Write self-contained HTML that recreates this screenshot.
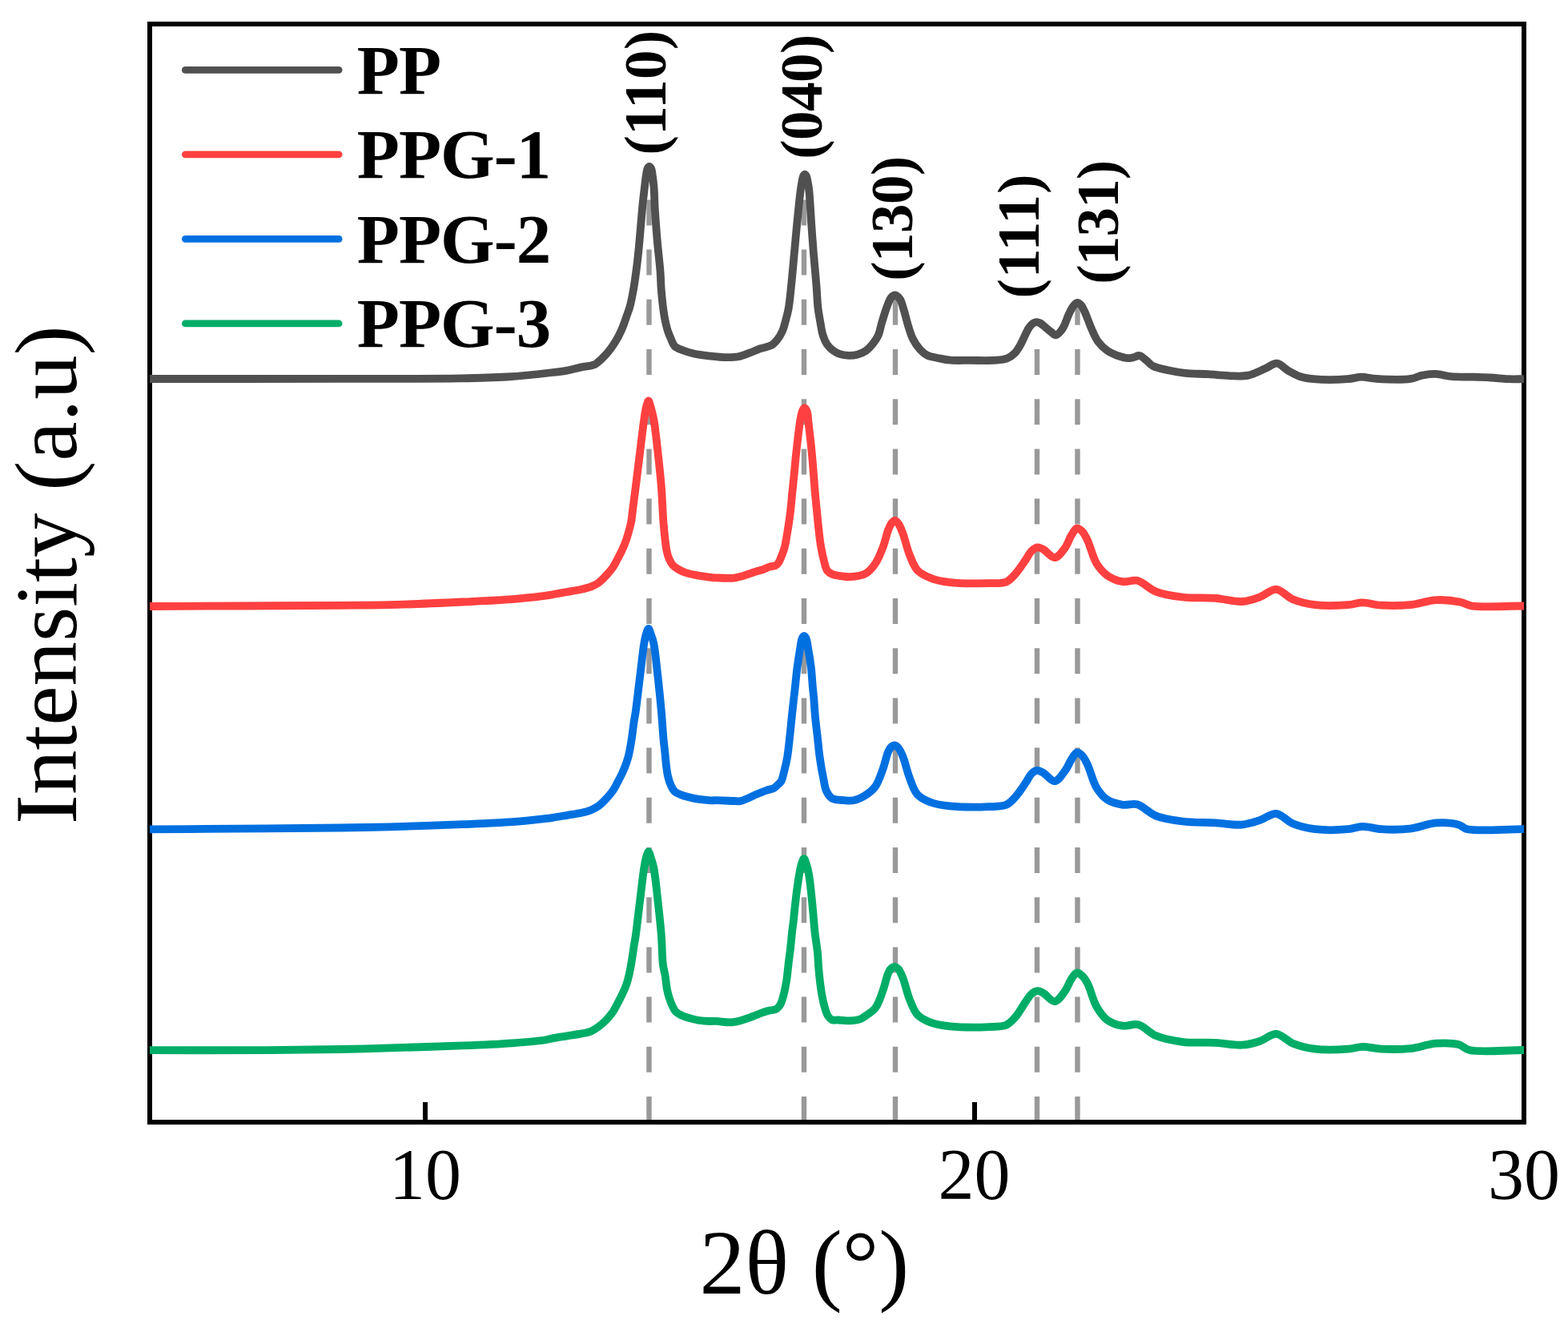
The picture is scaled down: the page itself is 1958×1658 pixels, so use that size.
<!DOCTYPE html>
<html><head><meta charset="utf-8"><title>XRD</title>
<style>
html,body{margin:0;padding:0;background:#fff;}
svg{display:block;}
.lg{font-family:"Liberation Serif",serif;font-weight:bold;font-size:87px;letter-spacing:-1px;fill:#000;}
.pk{font-family:"Liberation Serif",serif;font-weight:bold;font-size:73px;fill:#000;}
.tk{font-family:"Liberation Serif",serif;font-size:90px;fill:#000;}
.ax{font-family:"Liberation Serif",serif;font-size:114px;fill:#000;}
.ay{font-family:"Liberation Serif",serif;font-size:111px;fill:#000;}
</style></head>
<body>
<svg width="1958" height="1658" viewBox="0 0 1958 1658" xmlns="http://www.w3.org/2000/svg">
<rect x="0" y="0" width="1958" height="1658" fill="#fff"/>
<path d="M810.5,1401 L810.5,207.5" stroke="#999999" stroke-width="6.4" stroke-dasharray="32 30.2" fill="none"/>
<path d="M1004,1401 L1004,217.3" stroke="#999999" stroke-width="6.4" stroke-dasharray="32 30.2" fill="none"/>
<path d="M1118,1401 L1118,368.5" stroke="#999999" stroke-width="6.4" stroke-dasharray="32 30.2" fill="none"/>
<path d="M1295,1401 L1295,402.1" stroke="#999999" stroke-width="6.4" stroke-dasharray="32 30.2" fill="none"/>
<path d="M1345.5,1401 L1345.5,378" stroke="#999999" stroke-width="6.4" stroke-dasharray="32 30.2" fill="none"/>

<rect x="187" y="30" width="1716" height="1371" fill="none" stroke="#000" stroke-width="6"/>
<path d="M531,1398 L531,1376 M1217,1398 L1217,1376" stroke="#000" stroke-width="6"/>
<path d="M187.0,473.0 C224.7,473.0 261.4,473.0 300.0,473.0 C340.6,473.0 381.4,472.9 425.0,472.8 C472.7,472.7 536.7,473.1 575.0,472.4 C598.8,472.0 613.8,471.7 633.0,470.5 C652.1,469.3 676.3,466.6 690.0,465.0 C697.7,464.1 702.0,463.7 708.0,462.6 C714.0,461.5 720.6,459.5 726.0,458.4 C730.4,457.5 735.0,457.1 738.0,456.4 C739.8,456.0 741.0,455.9 742.4,455.2 C744.1,454.4 745.7,452.9 747.3,451.6 C748.9,450.3 750.3,449.0 751.8,447.6 C753.3,446.1 754.8,444.4 756.3,442.8 C757.7,441.3 759.0,439.9 760.4,438.2 C762.0,436.2 763.6,434.0 765.4,431.3 C767.7,427.9 770.5,423.3 772.6,419.2 C774.7,415.2 776.5,411.2 778.1,407.1 C779.7,403.1 780.9,399.1 782.3,395.1 C783.7,391.1 785.2,387.7 786.5,383.0 C788.2,376.9 789.6,369.3 791.0,361.5 C792.6,352.2 794.1,341.1 795.4,330.8 C796.7,320.6 797.6,310.9 798.6,300.0 C799.7,287.9 800.8,273.1 801.9,261.4 C802.8,251.7 803.9,242.5 804.8,234.8 C805.5,228.8 806.1,223.5 806.8,219.0 C807.4,215.6 807.6,212.1 808.6,210.2 C809.2,209.1 810.1,208.0 810.8,208.0 C811.5,208.0 812.4,209.1 813.0,210.2 C814.0,212.1 814.3,215.6 814.8,219.0 C815.5,223.5 816.1,228.8 816.6,234.8 C817.2,242.5 817.2,251.7 817.8,261.4 C818.5,273.1 819.6,287.0 820.7,300.0 C821.8,313.2 823.8,329.0 824.6,340.0 C825.2,347.8 825.1,353.3 825.6,359.9 C826.1,366.5 826.7,373.2 827.5,379.8 C828.3,386.4 829.3,393.8 830.5,399.7 C831.5,404.6 832.5,408.9 833.8,413.0 C835.0,416.6 836.3,419.7 837.8,422.9 C839.2,426.1 840.1,429.8 842.5,432.2 C845.1,434.8 849.3,436.0 853.1,437.5 C857.2,439.1 861.5,440.4 866.4,441.5 C872.1,442.8 878.6,443.6 885.2,444.4 C892.4,445.2 901.4,446.2 908.1,446.2 C913.3,446.2 917.4,446.2 921.9,445.3 C926.6,444.4 931.1,442.4 935.7,440.7 C940.3,439.0 944.9,436.8 949.5,435.2 C954.1,433.6 959.6,433.1 963.3,431.0 C966.4,429.2 968.4,426.8 970.6,424.1 C973.1,421.0 975.4,417.0 977.1,413.1 C978.8,409.3 979.6,405.4 980.8,401.1 C982.1,396.3 983.5,391.5 984.6,385.5 C986.1,377.5 986.9,367.5 988.0,357.0 C989.4,344.0 990.8,326.9 992.1,313.5 C993.2,301.9 993.9,292.6 995.1,281.0 C996.4,267.6 998.4,247.4 999.7,237.6 C1000.4,232.5 1000.9,229.3 1001.6,226.0 C1002.1,223.5 1002.4,221.1 1003.2,219.6 C1003.7,218.7 1004.4,217.6 1005.0,217.6 C1005.6,217.6 1006.3,218.7 1006.8,219.6 C1007.6,221.1 1007.9,223.5 1008.4,226.0 C1009.1,229.3 1009.7,232.5 1010.3,237.6 C1011.4,247.4 1012.3,267.6 1013.3,281.0 C1014.1,292.6 1014.8,301.9 1015.7,313.5 C1016.8,326.9 1018.5,344.2 1019.5,357.0 C1020.3,367.1 1020.5,375.9 1021.4,384.1 C1022.2,390.9 1023.3,396.6 1024.4,402.6 C1025.4,408.2 1026.1,414.1 1027.7,418.9 C1029.0,423.0 1030.4,426.5 1032.6,429.7 C1034.8,432.8 1037.8,435.8 1040.7,437.9 C1043.3,439.8 1045.9,441.2 1048.9,442.2 C1052.2,443.3 1056.1,443.7 1059.7,443.8 C1063.3,443.9 1067.0,443.6 1070.6,442.7 C1074.3,441.7 1078.2,440.1 1081.4,437.9 C1084.5,435.7 1087.1,432.8 1089.6,429.7 C1092.2,426.5 1094.7,423.0 1096.6,418.9 C1098.7,414.2 1099.5,408.3 1101.2,402.7 C1103.1,396.5 1105.3,388.7 1107.5,383.1 C1109.2,378.6 1110.7,373.8 1112.9,371.4 C1114.3,369.8 1116.0,368.4 1117.6,368.5 C1119.6,368.6 1122.2,371.3 1123.9,373.7 C1126.1,376.9 1127.1,382.1 1128.6,387.0 C1130.5,392.9 1132.2,400.5 1134.1,406.7 C1135.8,412.3 1137.1,417.5 1139.6,422.4 C1142.1,427.4 1145.6,432.8 1149.0,436.5 C1151.8,439.5 1154.4,441.8 1157.9,443.6 C1161.9,445.6 1167.4,446.2 1172.2,447.2 C1176.9,448.2 1181.0,449.2 1186.5,449.7 C1193.7,450.3 1202.6,449.9 1211.5,449.9 C1221.6,449.9 1235.1,450.5 1243.7,449.7 C1249.4,449.2 1253.9,448.9 1258.0,447.2 C1261.6,445.7 1264.7,443.3 1267.3,440.7 C1269.9,438.1 1271.6,434.9 1273.7,431.4 C1276.2,427.2 1278.8,420.9 1280.9,416.8 C1282.4,413.8 1283.4,411.2 1285.0,409.0 C1286.4,407.1 1287.8,405.2 1289.5,404.0 C1291.0,403.0 1292.7,402.2 1294.3,402.1 C1295.9,402.0 1297.4,402.7 1299.0,403.5 C1301.1,404.6 1303.3,406.9 1305.4,408.6 C1307.6,410.4 1309.8,412.3 1312.0,414.0 C1314.1,415.6 1316.2,418.5 1318.4,418.4 C1320.8,418.3 1323.8,414.4 1325.8,411.9 C1327.7,409.5 1328.7,406.8 1330.0,404.0 C1331.4,400.9 1332.5,397.2 1334.0,393.9 C1335.5,390.5 1337.1,386.8 1339.0,384.0 C1340.7,381.6 1342.6,378.3 1344.6,378.0 C1346.3,377.7 1348.5,379.5 1350.0,381.0 C1351.9,382.9 1353.0,386.1 1354.4,389.0 C1355.9,392.1 1357.1,395.6 1358.5,399.0 C1359.9,402.5 1360.9,405.7 1362.6,409.5 C1364.8,414.4 1367.2,421.0 1370.7,425.8 C1374.1,430.5 1378.7,435.1 1383.0,438.1 C1386.6,440.7 1390.2,442.1 1394.3,443.6 C1398.7,445.2 1404.6,447.0 1408.6,447.2 C1411.5,447.3 1413.6,446.5 1416.0,446.0 C1418.4,445.5 1420.6,443.6 1422.9,444.0 C1425.7,444.5 1428.7,447.8 1431.5,450.0 C1434.4,452.2 1436.3,455.3 1440.0,457.2 C1444.8,459.7 1452.2,460.8 1458.7,462.2 C1465.6,463.7 1472.4,465.0 1480.1,465.8 C1488.9,466.8 1499.2,466.6 1508.7,467.2 C1518.2,467.8 1528.5,469.1 1537.3,469.3 C1544.9,469.5 1551.7,470.1 1558.7,468.6 C1566.0,467.1 1573.8,462.7 1580.2,460.0 C1585.5,457.8 1589.8,453.2 1594.5,453.6 C1599.4,454.0 1604.0,460.1 1608.8,462.9 C1613.5,465.6 1618.0,468.3 1623.1,470.0 C1628.4,471.8 1633.0,472.5 1640.0,473.2 C1651.0,474.2 1671.9,474.0 1682.9,473.2 C1689.9,472.7 1694.2,470.8 1700.0,470.7 C1706.1,470.6 1711.1,472.5 1718.6,472.9 C1730.0,473.6 1751.2,474.4 1761.6,472.9 C1767.7,472.0 1770.9,469.6 1775.9,468.6 C1781.3,467.5 1787.2,466.7 1793.0,466.9 C1799.1,467.1 1804.7,469.3 1811.6,470.0 C1820.1,470.8 1831.4,470.4 1840.2,470.7 C1847.9,470.9 1854.5,471.1 1861.6,471.5 C1868.8,471.9 1876.1,472.9 1883.1,473.2 C1889.9,473.5 1896.4,473.2 1903.0,473.2" fill="none" stroke="#505050" stroke-width="9.8" stroke-linejoin="round" stroke-linecap="butt"/>
<path d="M187.0,757.0 C224.7,756.8 261.4,756.7 300.0,756.5 C340.6,756.3 390.6,756.1 425.0,755.8 C449.1,755.6 464.0,755.8 486.5,755.2 C514.0,754.5 550.5,752.8 578.0,751.5 C600.6,750.4 621.3,749.6 639.7,748.1 C654.6,746.9 671.1,744.9 680.0,743.8 C684.5,743.2 686.2,742.9 690.0,742.3 C695.2,741.4 702.1,740.1 708.1,739.0 C714.1,737.9 720.8,736.9 726.2,735.7 C730.7,734.7 734.6,733.9 738.3,732.4 C741.6,731.1 744.4,729.7 747.3,727.6 C750.5,725.3 753.4,722.2 756.3,719.1 C759.4,715.8 762.8,712.0 765.4,708.3 C767.8,704.8 769.4,701.1 771.4,697.4 C773.5,693.5 775.7,689.4 777.5,685.3 C779.3,681.3 781.0,677.2 782.3,673.3 C783.5,669.8 784.3,666.5 785.3,663.0 C786.3,659.3 787.4,655.6 788.2,651.4 C789.1,646.6 789.5,640.9 790.2,635.7 C790.9,630.5 791.6,624.8 792.2,620.0 C792.7,615.9 793.1,613.7 793.7,608.7 C794.9,599.0 797.2,580.1 799.0,565.8 C800.8,551.5 802.8,533.5 804.4,522.9 C805.3,516.6 805.9,512.1 807.0,508.0 C807.8,505.0 808.9,500.5 809.8,500.5 C810.7,500.5 811.6,505.0 812.5,508.0 C813.7,512.1 815.0,516.6 816.2,522.9 C818.2,533.5 820.0,551.5 821.6,565.8 C823.2,580.1 824.8,594.4 825.9,608.7 C827.0,623.0 827.5,639.5 828.4,651.6 C829.1,660.4 829.8,667.7 830.6,674.5 C831.3,679.9 831.8,684.7 832.8,689.0 C833.6,692.6 834.6,695.7 835.9,698.6 C837.1,701.3 838.4,703.8 840.3,705.8 C842.1,707.8 844.5,709.2 847.0,710.7 C849.8,712.3 852.9,713.8 856.2,715.0 C859.9,716.3 864.1,717.1 868.3,717.9 C872.9,718.8 878.1,719.6 882.7,720.2 C886.8,720.7 889.9,721.1 894.5,721.3 C901.1,721.6 910.3,722.5 918.4,721.3 C927.1,720.0 938.6,715.2 945.0,713.3 C948.6,712.2 950.6,711.8 953.4,710.8 C956.2,709.8 959.2,708.2 961.9,707.4 C964.2,706.7 966.8,707.0 968.6,706.0 C970.2,705.1 971.4,703.6 972.5,702.0 C973.7,700.2 974.4,698.1 975.4,695.6 C976.8,692.1 978.6,687.5 979.8,682.9 C981.2,677.7 981.9,672.2 983.0,666.0 C984.3,658.4 985.7,649.2 986.8,640.7 C987.8,632.3 988.4,623.8 989.3,615.3 C990.1,606.9 991.1,598.3 991.9,590.0 C992.7,581.8 993.2,575.0 994.2,565.8 C995.6,553.5 997.9,532.1 999.6,522.9 C1000.4,518.4 1000.9,515.4 1002.0,513.0 C1002.7,511.4 1003.7,509.5 1004.6,509.5 C1005.5,509.5 1006.7,511.2 1007.5,513.0 C1009.0,516.4 1009.0,523.9 1009.8,530.1 C1010.7,537.4 1011.8,546.2 1012.6,554.2 C1013.5,562.3 1014.2,570.6 1014.9,578.4 C1015.5,585.8 1016.1,593.4 1016.6,600.0 C1017.0,605.5 1017.3,609.6 1017.8,615.3 C1018.5,622.7 1019.4,632.2 1020.3,640.7 C1021.1,649.1 1022.0,658.4 1022.9,666.0 C1023.6,672.2 1024.2,677.3 1025.2,682.9 C1026.2,688.6 1027.4,694.6 1028.8,699.8 C1030.0,704.4 1030.9,709.6 1033.0,712.5 C1034.6,714.6 1036.5,715.6 1038.9,716.7 C1041.9,718.0 1046.1,718.6 1049.9,719.2 C1053.8,719.8 1057.4,720.5 1061.8,720.2 C1067.5,719.8 1075.8,719.0 1081.1,716.0 C1086.1,713.2 1089.6,708.6 1093.1,703.5 C1097.1,697.6 1100.2,689.5 1102.9,682.3 C1105.6,675.3 1107.2,666.3 1109.4,661.0 C1110.8,657.6 1111.9,654.9 1113.5,653.0 C1114.7,651.5 1116.2,649.7 1117.6,649.8 C1119.1,649.9 1120.6,652.1 1122.0,654.0 C1124.0,656.8 1125.6,661.2 1127.4,666.0 C1130.1,673.0 1132.4,684.1 1135.6,692.1 C1138.5,699.2 1140.8,706.7 1145.4,711.7 C1149.7,716.3 1155.5,719.0 1161.7,721.5 C1168.8,724.4 1176.6,726.0 1186.2,727.2 C1199.7,728.9 1222.3,728.5 1235.3,728.1 C1243.8,727.8 1250.8,728.8 1256.5,726.4 C1261.3,724.4 1264.2,720.6 1267.9,716.6 C1272.4,711.7 1277.4,703.8 1281.0,698.6 C1283.7,694.6 1285.3,690.6 1288.0,688.0 C1290.3,685.8 1293.1,683.6 1295.7,683.3 C1298.1,683.1 1300.3,684.5 1303.0,686.0 C1307.0,688.2 1312.5,696.5 1317.0,696.2 C1321.5,695.9 1326.5,688.6 1330.0,683.9 C1333.5,679.2 1335.2,672.3 1338.0,668.0 C1340.2,664.6 1342.3,660.1 1344.7,659.6 C1346.7,659.2 1349.1,661.2 1351.0,663.0 C1353.6,665.5 1355.5,669.4 1357.8,674.1 C1361.4,681.4 1364.5,695.7 1369.3,703.5 C1373.1,709.6 1377.0,714.4 1382.3,718.2 C1387.8,722.1 1395.5,725.2 1402.1,726.2 C1408.1,727.1 1413.9,723.4 1420.0,724.8 C1427.5,726.5 1434.6,735.2 1443.4,738.6 C1453.2,742.4 1464.8,744.1 1476.5,745.5 C1489.5,747.1 1504.9,745.9 1517.9,746.9 C1529.6,747.8 1541.1,751.6 1551.0,751.0 C1559.1,750.5 1565.9,748.0 1573.0,745.5 C1580.1,743.0 1586.9,735.5 1593.7,735.9 C1600.7,736.3 1606.7,745.1 1614.4,748.3 C1622.7,751.7 1631.8,753.9 1642.0,755.2 C1654.3,756.7 1672.5,756.0 1683.4,755.2 C1690.6,754.6 1694.9,752.4 1701.3,752.4 C1708.6,752.3 1716.0,755.2 1724.7,755.7 C1735.4,756.4 1748.9,756.3 1760.6,755.2 C1771.9,754.1 1782.9,749.6 1793.7,749.1 C1804.0,748.6 1815.9,750.1 1824.0,751.8 C1829.6,753.0 1831.4,755.4 1837.8,756.5 C1851.4,758.7 1881.3,756.5 1903.0,756.5" fill="none" stroke="#FF4040" stroke-width="9.8" stroke-linejoin="round" stroke-linecap="butt"/>
<path d="M187.0,1035.4 C235.7,1035.1 290.1,1034.8 333.2,1034.4 C367.4,1034.1 397.6,1033.9 425.2,1033.5 C447.7,1033.2 464.0,1032.9 486.5,1032.3 C514.0,1031.6 550.9,1030.3 578.4,1029.2 C600.9,1028.3 621.4,1027.6 639.7,1026.2 C654.6,1025.1 671.1,1023.1 680.0,1022.1 C684.5,1021.6 686.2,1021.4 690.0,1020.8 C695.2,1020.0 702.1,1018.8 708.1,1017.8 C714.1,1016.8 720.8,1016.0 726.2,1014.8 C730.7,1013.8 734.6,1012.7 738.3,1011.2 C741.6,1009.8 744.4,1008.4 747.3,1006.3 C750.5,1004.0 753.4,1001.0 756.3,997.9 C759.4,994.6 762.8,990.8 765.4,987.0 C767.8,983.5 769.4,979.9 771.4,976.2 C773.5,972.3 775.7,968.2 777.5,964.1 C779.3,960.1 781.0,956.0 782.3,952.1 C783.5,948.6 784.4,945.8 785.3,941.8 C786.5,936.6 787.6,930.0 788.6,923.5 C789.8,916.2 790.8,906.4 791.8,900.0 C792.5,895.5 793.0,893.7 793.7,888.7 C795.1,879.0 797.2,860.1 799.0,845.8 C800.8,831.5 802.7,812.7 804.4,802.9 C805.3,797.7 805.9,794.3 807.0,791.0 C807.8,788.6 808.9,784.9 809.8,784.9 C810.7,784.9 811.6,788.6 812.5,791.0 C813.7,794.3 815.1,797.6 816.2,802.9 C818.3,812.7 820.0,831.5 821.6,845.8 C823.2,860.1 824.7,875.1 825.9,888.7 C827.0,900.9 827.7,914.0 828.6,923.5 C829.2,930.0 829.9,934.7 830.4,940.0 C830.9,945.0 831.2,949.7 831.8,954.5 C832.4,959.3 832.9,964.4 834.0,969.0 C835.0,973.2 836.3,977.6 837.9,981.0 C839.3,983.8 840.6,986.4 842.7,988.3 C844.7,990.1 847.2,991.0 849.9,992.1 C853.1,993.4 857.2,994.5 861.0,995.5 C864.9,996.5 868.9,997.3 873.1,997.9 C877.7,998.6 883.7,999.1 887.6,999.3 C890.3,999.4 891.6,999.2 894.5,999.2 C899.7,999.3 910.5,999.8 916.0,1000.0 C919.5,1000.1 921.1,1000.8 924.5,1000.2 C929.9,999.2 939.0,994.1 945.0,991.6 C949.7,989.7 953.9,987.9 957.7,986.6 C960.7,985.6 963.7,985.4 966.0,984.2 C967.8,983.2 969.0,981.9 970.5,980.5 C972.1,979.0 974.1,977.8 975.4,975.6 C977.2,972.5 978.0,967.5 979.2,962.9 C980.6,957.7 981.9,952.2 983.0,946.0 C984.3,938.4 985.2,929.1 986.1,920.7 C987.1,912.2 987.8,903.8 988.7,895.3 C989.6,886.9 990.7,876.8 991.5,870.0 C992.0,865.4 992.3,863.0 992.8,858.4 C993.5,851.8 994.4,842.2 995.4,834.2 C996.5,826.1 998.0,816.8 999.1,810.1 C999.9,805.2 1000.2,800.4 1001.4,797.5 C1002.1,795.8 1003.2,793.8 1004.1,793.8 C1005.0,793.8 1006.1,795.8 1006.8,797.5 C1008.0,800.4 1008.4,805.2 1009.2,810.1 C1010.4,816.8 1011.9,826.1 1012.9,834.2 C1013.8,842.2 1014.3,851.8 1014.9,858.4 C1015.3,863.0 1015.7,865.4 1016.1,870.0 C1016.7,876.8 1017.2,886.9 1018.0,895.3 C1018.8,903.8 1019.9,912.2 1020.9,920.7 C1021.8,929.1 1022.5,937.6 1023.7,946.0 C1024.9,954.5 1026.5,963.8 1028.1,971.4 C1029.4,977.6 1030.0,983.7 1032.2,988.2 C1033.9,991.7 1035.7,994.8 1038.9,996.7 C1042.7,998.9 1049.3,998.8 1054.1,999.2 C1058.3,999.6 1061.9,1000.1 1066.0,999.3 C1070.8,998.3 1076.6,995.6 1081.1,992.7 C1085.6,989.8 1089.7,986.6 1093.1,981.9 C1097.3,976.0 1100.1,966.6 1102.9,959.0 C1105.5,951.9 1107.1,942.5 1109.4,937.8 C1110.7,935.1 1111.9,933.2 1113.5,932.0 C1114.7,931.1 1116.3,930.3 1117.6,930.5 C1119.1,930.7 1120.6,932.3 1122.0,934.0 C1124.0,936.4 1125.6,940.0 1127.4,944.3 C1130.2,950.9 1132.4,962.3 1135.6,970.5 C1138.5,978.0 1140.7,986.4 1145.4,991.7 C1149.7,996.4 1155.5,999.1 1161.7,1001.5 C1168.8,1004.3 1176.6,1005.4 1186.2,1006.4 C1199.7,1007.8 1222.3,1007.8 1235.3,1007.2 C1243.8,1006.8 1250.8,1007.3 1256.5,1004.8 C1261.3,1002.7 1264.2,999.0 1267.9,995.0 C1272.4,990.1 1277.4,982.3 1281.0,977.0 C1283.8,972.9 1285.3,968.6 1288.0,966.0 C1290.1,963.9 1292.5,962.0 1294.9,961.8 C1297.4,961.6 1300.1,963.4 1303.0,965.0 C1307.2,967.3 1312.6,975.7 1317.0,975.4 C1321.6,975.1 1326.4,967.0 1330.0,962.3 C1333.4,957.8 1335.3,952.1 1338.0,948.0 C1340.2,944.7 1342.3,940.0 1344.7,939.5 C1346.7,939.1 1349.1,941.2 1351.0,943.0 C1353.6,945.5 1355.5,949.4 1357.8,954.1 C1361.4,961.4 1364.5,975.7 1369.3,983.5 C1373.1,989.6 1376.9,994.7 1382.3,998.2 C1387.8,1001.8 1395.6,1003.8 1402.1,1004.8 C1408.1,1005.7 1413.9,1002.7 1420.0,1004.3 C1427.6,1006.3 1434.6,1015.1 1443.4,1018.6 C1453.2,1022.5 1464.8,1024.0 1476.5,1025.5 C1489.5,1027.1 1504.9,1026.7 1517.9,1027.4 C1529.6,1028.1 1541.2,1030.5 1551.0,1029.6 C1559.1,1028.9 1565.9,1026.4 1573.0,1024.1 C1580.1,1021.8 1586.9,1015.3 1593.7,1015.9 C1600.7,1016.5 1606.7,1025.1 1614.4,1028.3 C1622.7,1031.7 1631.8,1033.9 1642.0,1035.2 C1654.3,1036.7 1672.5,1036.2 1683.4,1035.2 C1690.6,1034.5 1694.9,1031.9 1701.3,1031.8 C1708.6,1031.6 1716.0,1034.6 1724.7,1035.2 C1735.4,1035.9 1748.9,1036.0 1760.6,1034.6 C1771.9,1033.3 1783.1,1028.1 1793.7,1027.4 C1803.3,1026.8 1814.3,1027.6 1821.3,1029.6 C1826.0,1030.9 1826.8,1033.9 1832.3,1035.2 C1845.4,1038.4 1879.4,1035.2 1903.0,1035.2" fill="none" stroke="#0070E0" stroke-width="9.8" stroke-linejoin="round" stroke-linecap="butt"/>
<path d="M187.0,1311.2 C235.7,1311.2 290.1,1311.5 333.2,1311.2 C367.4,1311.0 397.6,1310.5 425.2,1310.0 C447.7,1309.6 464.0,1309.1 486.5,1308.4 C514.0,1307.6 550.9,1306.5 578.4,1305.4 C600.9,1304.5 621.4,1303.6 639.7,1302.3 C654.5,1301.2 671.1,1299.9 680.0,1298.5 C684.5,1297.8 686.2,1297.1 690.0,1296.4 C695.1,1295.4 702.1,1294.4 708.1,1293.4 C714.1,1292.4 720.8,1291.5 726.2,1290.4 C730.7,1289.5 734.7,1288.9 738.3,1287.4 C741.6,1286.0 744.4,1284.0 747.3,1281.9 C750.4,1279.6 753.4,1277.0 756.3,1274.1 C759.5,1270.9 762.8,1267.0 765.4,1263.3 C767.8,1259.8 769.4,1256.1 771.4,1252.4 C773.5,1248.5 775.7,1244.3 777.5,1240.3 C779.3,1236.5 781.0,1232.7 782.3,1228.9 C783.6,1225.3 784.4,1221.9 785.3,1218.0 C786.4,1213.5 787.2,1208.9 788.2,1203.5 C789.4,1196.6 790.8,1186.4 791.8,1180.0 C792.5,1175.5 793.0,1173.7 793.7,1168.7 C795.1,1159.0 797.2,1140.1 799.0,1125.8 C800.8,1111.5 802.7,1093.0 804.4,1082.9 C805.3,1077.3 805.9,1073.5 807.0,1070.0 C807.8,1067.4 808.9,1063.5 809.8,1063.5 C810.7,1063.5 811.6,1067.4 812.5,1070.0 C813.7,1073.5 815.0,1077.3 816.2,1082.9 C818.3,1093.0 820.0,1111.5 821.6,1125.8 C823.2,1140.1 824.9,1155.1 825.9,1168.7 C826.8,1180.9 826.7,1194.1 827.8,1203.5 C828.6,1210.0 830.1,1214.7 830.9,1220.0 C831.7,1225.0 831.9,1229.9 832.8,1234.5 C833.6,1238.7 834.7,1242.7 835.9,1246.5 C837.0,1249.9 838.3,1253.3 839.8,1256.2 C841.1,1258.8 842.2,1261.5 844.1,1263.4 C846.0,1265.3 848.7,1266.6 851.4,1267.8 C854.3,1269.2 857.6,1270.1 861.0,1271.1 C864.8,1272.2 868.9,1273.3 873.1,1274.0 C877.7,1274.7 883.7,1274.9 887.6,1275.0 C890.3,1275.1 891.6,1274.8 894.5,1274.9 C899.6,1275.0 908.1,1277.0 915.3,1276.2 C923.3,1275.3 933.6,1271.2 940.0,1269.0 C944.1,1267.6 946.6,1266.2 950.0,1265.0 C953.3,1263.8 957.2,1262.5 960.1,1261.8 C962.3,1261.3 964.3,1261.2 966.0,1260.8 C967.4,1260.4 968.6,1260.3 969.8,1259.5 C971.4,1258.4 973.2,1256.4 974.5,1254.0 C976.3,1250.8 977.5,1245.9 978.7,1241.4 C980.1,1236.2 981.1,1230.5 982.1,1224.5 C983.2,1217.9 983.7,1210.4 984.6,1203.3 C985.4,1196.3 986.5,1188.8 987.2,1182.2 C987.9,1176.3 988.3,1170.8 988.9,1165.3 C989.5,1159.9 990.3,1154.6 990.9,1149.5 C991.4,1144.8 991.7,1141.0 992.2,1136.0 C992.9,1129.6 993.8,1121.5 994.7,1114.3 C995.7,1107.1 996.8,1099.0 997.9,1092.6 C998.8,1087.5 999.6,1082.7 1000.8,1079.0 C1001.7,1076.2 1002.9,1072.0 1003.9,1072.0 C1004.9,1072.0 1006.1,1076.2 1007.0,1079.0 C1008.3,1082.7 1009.3,1087.5 1010.2,1092.6 C1011.3,1099.0 1012.1,1107.1 1012.9,1114.3 C1013.7,1121.5 1014.3,1128.2 1015.0,1136.0 C1015.9,1145.0 1016.6,1156.0 1017.7,1165.3 C1018.7,1173.9 1020.2,1182.4 1021.0,1190.0 C1021.6,1196.5 1021.7,1202.1 1022.2,1208.1 C1022.7,1214.1 1023.3,1220.2 1024.0,1226.2 C1024.8,1232.2 1025.6,1238.5 1026.7,1244.2 C1027.7,1249.5 1028.9,1254.9 1030.3,1259.3 C1031.4,1262.8 1032.3,1266.0 1033.9,1268.4 C1035.2,1270.4 1036.7,1272.3 1038.8,1273.2 C1041.1,1274.2 1044.0,1273.3 1047.2,1273.5 C1051.5,1273.7 1057.5,1274.7 1062.3,1274.4 C1066.7,1274.1 1072.0,1273.2 1075.0,1272.0 C1076.8,1271.3 1077.3,1270.7 1079.0,1269.5 C1082.3,1267.2 1089.3,1263.4 1093.1,1258.4 C1097.6,1252.6 1100.1,1243.1 1102.9,1235.6 C1105.5,1228.5 1107.1,1219.1 1109.4,1214.3 C1110.7,1211.6 1111.9,1209.7 1113.5,1208.5 C1114.7,1207.6 1116.3,1206.8 1117.6,1207.0 C1119.1,1207.2 1120.6,1208.4 1122.0,1210.0 C1124.1,1212.4 1125.6,1216.4 1127.4,1220.9 C1130.1,1227.6 1132.4,1239.0 1135.6,1247.0 C1138.5,1254.1 1140.8,1261.6 1145.4,1266.6 C1149.7,1271.2 1155.5,1274.0 1161.7,1276.4 C1168.8,1279.2 1176.6,1280.3 1186.2,1281.3 C1199.7,1282.7 1222.3,1282.7 1235.3,1282.1 C1243.8,1281.7 1250.8,1282.2 1256.5,1279.7 C1261.3,1277.6 1264.2,1274.0 1267.9,1269.9 C1272.5,1264.7 1277.2,1255.6 1281.0,1250.3 C1283.6,1246.6 1285.3,1243.2 1288.0,1241.0 C1290.3,1239.1 1293.1,1237.3 1295.7,1237.2 C1298.1,1237.1 1300.3,1238.5 1303.0,1240.0 C1307.0,1242.2 1312.6,1250.6 1317.0,1250.3 C1321.6,1249.9 1326.5,1242.0 1330.0,1237.2 C1333.4,1232.6 1335.2,1226.0 1338.0,1222.0 C1340.1,1218.9 1342.3,1214.9 1344.7,1214.5 C1346.7,1214.2 1349.0,1216.3 1351.0,1218.0 C1353.5,1220.2 1355.5,1223.2 1357.8,1227.4 C1361.6,1234.3 1364.6,1248.7 1369.3,1256.8 C1373.1,1263.4 1376.9,1269.2 1382.3,1273.2 C1387.8,1277.2 1395.4,1279.7 1402.1,1280.7 C1408.5,1281.6 1415.0,1277.7 1421.4,1279.3 C1428.8,1281.1 1435.0,1289.6 1443.4,1293.1 C1453.0,1297.1 1464.8,1299.3 1476.5,1300.8 C1489.4,1302.5 1504.9,1301.2 1517.9,1301.9 C1529.6,1302.5 1541.1,1305.3 1551.0,1304.7 C1559.1,1304.2 1565.9,1302.3 1573.0,1300.0 C1580.1,1297.7 1586.9,1290.5 1593.7,1290.9 C1600.7,1291.3 1606.8,1299.6 1614.4,1302.7 C1622.7,1306.0 1631.8,1308.3 1642.0,1309.6 C1654.3,1311.1 1672.5,1310.4 1683.4,1309.6 C1690.6,1309.1 1694.9,1307.0 1701.3,1306.9 C1708.6,1306.8 1716.1,1309.2 1724.7,1309.6 C1735.4,1310.1 1748.9,1310.3 1760.6,1309.1 C1771.9,1307.9 1783.1,1303.4 1793.7,1302.7 C1803.3,1302.0 1813.9,1302.1 1821.3,1304.1 C1826.8,1305.6 1828.4,1309.4 1835.0,1311.0 C1848.8,1314.3 1880.3,1311.0 1903.0,1311.0" fill="none" stroke="#00AD67" stroke-width="9.8" stroke-linejoin="round" stroke-linecap="butt"/>

<path d="M231.4,87.4 L423.1,87.4" stroke="#505050" stroke-width="8.8" stroke-linecap="round"/>
<text x="445.8" y="116.7" class="lg">PP</text>
<path d="M231.4,192.9 L423.1,192.9" stroke="#FF4040" stroke-width="8.8" stroke-linecap="round"/>
<text x="445.8" y="222.4" class="lg">PPG-1</text>
<path d="M231.4,298.4 L423.1,298.4" stroke="#0070E0" stroke-width="8.8" stroke-linecap="round"/>
<text x="445.8" y="327.7" class="lg">PPG-2</text>
<path d="M231.4,403.9 L423.1,403.9" stroke="#00AD67" stroke-width="8.8" stroke-linecap="round"/>
<text x="445.8" y="433.2" class="lg">PPG-3</text>

<text class="pk" style="letter-spacing:0.4px" transform="translate(831,193.4) rotate(-90)">(110)</text>
<text class="pk" style="letter-spacing:-0.5px" transform="translate(1025.8,198.8) rotate(-90)">(040)</text>
<text class="pk" style="letter-spacing:-0.5px" transform="translate(1139,350.8) rotate(-90)">(130)</text>
<text class="pk" style="letter-spacing:1.3px" transform="translate(1296.8,372.6) rotate(-90)">(111)</text>
<text class="pk" style="letter-spacing:-0.75px" transform="translate(1396,354.7) rotate(-90)">(131)</text>

<text class="tk" x="531" y="1497" text-anchor="middle">10</text>
<text class="tk" x="1216.5" y="1497" text-anchor="middle">20</text>
<text class="tk" x="1903" y="1497" text-anchor="middle">30</text>
<text class="ax" x="873.6" y="1615">2θ (°)</text>
<text class="ay" transform="translate(95,1029) rotate(-90)">Intensity (a.u)</text>
</svg>
</body></html>
